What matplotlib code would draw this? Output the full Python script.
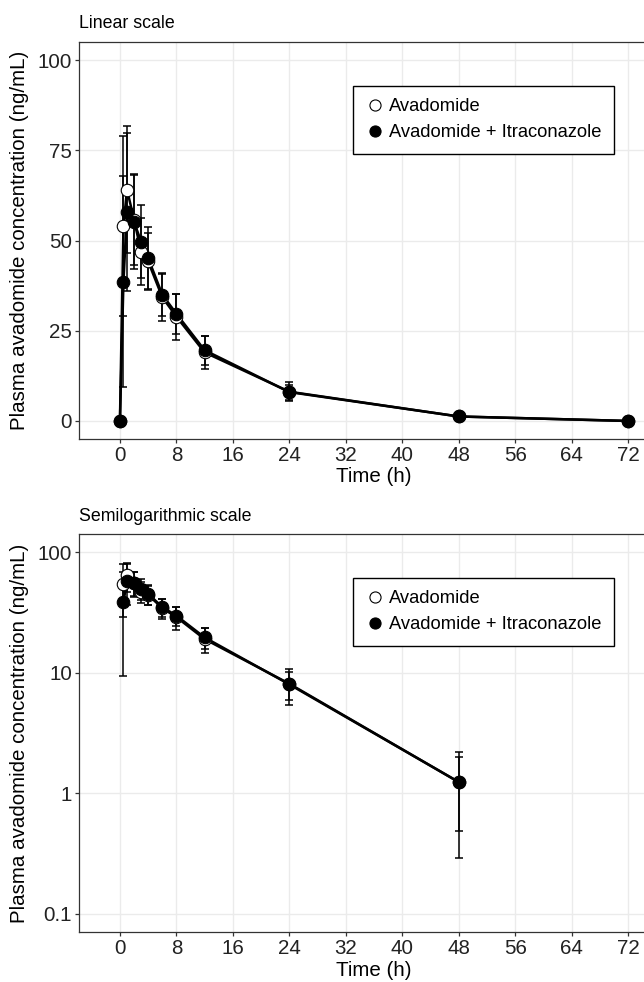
import numpy as np
import matplotlib
matplotlib.use("Agg")
import matplotlib.pyplot as plt
from matplotlib.lines import Line2D

plt.rcParams['font.family'] = ['Liberation Sans', 'DejaVu Sans']

# ---- data ----
time = [0, 0.5, 1, 2, 3, 4, 6, 8, 12, 24, 48, 72]
ava_mean = [0, 54.0, 64.1, 55.8, 46.9, 44.2, 34.3, 28.9, 19.0, 8.1, 1.24, 0]
ava_sd = [0, 25.0, 17.7, 12.5, 9.2, 8.0, 6.5, 6.4, 4.5, 2.7, 0.95, 0]
itra_mean = [0, 38.6, 57.9, 55.1, 49.7, 45.1, 35.0, 29.7, 19.6, 8.0, 1.24, 0]
itra_sd = [0, 29.2, 21.8, 13.0, 10.0, 8.6, 6.0, 5.5, 4.0, 2.1, 0.75, 0]
series_labels = ["Avadomide", "Avadomide + Itraconazole"]
x_ticks = [0, 8, 16, 24, 32, 40, 48, 56, 64, 72]
lin_ticks = [0, 25, 50, 75, 100]
log_ticks = [0.1, 1, 10, 100]
log_ticklabels = ["0.1", "1", "10", "100"]

W, H = 644, 982
fig = plt.figure(figsize=(W / 100, H / 100), dpi=100)

def fx(px):
    return px / W

def fy(py):
    return 1 - py / H

left_px, right_px = 79, 669
ax1 = fig.add_axes([fx(left_px), fy(439), fx(right_px - left_px), (439 - 42) / H])
ax2 = fig.add_axes([fx(left_px), fy(932), fx(right_px - left_px), (932 - 534) / H])

FS_TICK = 14.8
FS_LAB = 14.8
FS_LEG = 13.2
FS_TITLE = 12.8
GRID = '#EBEBEB'
SPINE = '#333333'
TXT = '#222222'

def draw(ax, log=False):
    t = np.array(time, dtype=float)
    series = [(np.array(ava_mean), np.array(ava_sd), 'white'),
              (np.array(itra_mean), np.array(itra_sd), 'black')]
    for m, s, fc in series:
        mask = m > 0 if log else np.ones_like(m, dtype=bool)
        ax.plot(t[mask], m[mask], color='black', lw=1.8, zorder=3)
    for m, s, fc in series:
        mask = m > 0 if log else np.ones_like(m, dtype=bool)
        ax.errorbar(t[mask], m[mask], yerr=s[mask], fmt='none', ecolor='black',
                    elinewidth=1.1, capsize=3.2, capthick=1.1, zorder=4)
    for m, s, fc in series:
        mask = m > 0 if log else np.ones_like(m, dtype=bool)
        ax.plot(t[mask], m[mask], linestyle='none', marker='o', markersize=9,
                markerfacecolor=fc, markeredgecolor='black', markeredgewidth=0.8,
                zorder=5)
    ax.set_xlim(-5.8, 77.8)
    ax.set_xticks(x_ticks)
    ax.set_xticklabels([str(v) for v in x_ticks])
    ax.grid(True, color=GRID, lw=1.0, zorder=0)
    ax.set_axisbelow(True)
    for sp in ax.spines.values():
        sp.set_color(SPINE)
        sp.set_linewidth(0.9)
    ax.tick_params(axis='both', length=2.9, width=0.9, color=SPINE,
                   labelsize=FS_TICK, labelcolor=TXT, pad=2.2)
    ax.tick_params(axis='both', which='minor', length=0)
    handles = [Line2D([], [], linestyle='none', marker='o', markersize=8,
                      markerfacecolor=c, markeredgecolor='black', markeredgewidth=0.8)
               for c in ['white', 'black']]
    leg = ax.legend(handles, series_labels, loc='upper left',
                    bbox_to_anchor=(fx(353 - left_px) / fx(right_px - left_px), 1 - 44 / (ax.bbox.height)),
                    bbox_transform=ax.transAxes, fontsize=FS_LEG, frameon=True,
                    fancybox=False, framealpha=1, edgecolor='black',
                    handletextpad=0.3, handlelength=1.0, labelspacing=0.48,
                    borderpad=0.68, borderaxespad=0)
    leg.get_frame().set_linewidth(1.0)

draw(ax1)
ax1.set_ylim(-5, 105)
ax1.set_yticks(lin_ticks)
ax1.set_yticklabels([str(v) for v in lin_ticks])

draw(ax2, log=True)
ax2.set_yscale('log')
ax2.set_ylim(10 ** -1.15, 10 ** 2.15)
ax2.set_yticks(log_ticks)
ax2.set_yticklabels(log_ticklabels)
ax2.minorticks_off()

# titles and axis labels
fig.text(fx(left_px), fy(28), "Linear scale", fontsize=FS_TITLE, va='baseline', ha='left', color='black')
fig.text(fx(left_px), fy(521), "Semilogarithmic scale", fontsize=FS_TITLE, va='baseline', ha='left', color='black')
xc = fx((left_px + right_px) / 2)
fig.text(xc, fy(477), "Time (h)", fontsize=FS_LAB, ha='center', va='center', color='black')
fig.text(xc, fy(970), "Time (h)", fontsize=FS_LAB, ha='center', va='center', color='black')
ylab = "Plasma avadomide concentration (ng/mL)"
fig.text(fx(20), fy((42 + 439) / 2), ylab, fontsize=FS_LAB, rotation=90, ha='center', va='center', color='black')
fig.text(fx(20), fy((534 + 932) / 2), ylab, fontsize=FS_LAB, rotation=90, ha='center', va='center', color='black')

fig.savefig("out.png", dpi=100)
